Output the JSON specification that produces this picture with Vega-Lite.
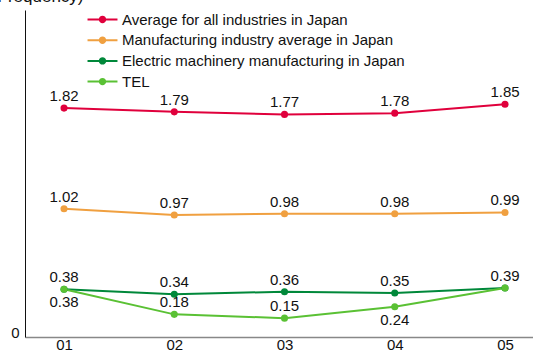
{
  "$schema": "https://vega.github.io/schema/vega-lite/v6.json",
  "autosize": "none",
  "width": 508,
  "height": 327,
  "padding": {"left": 25, "top": 10, "right": 0, "bottom": 14},
  "config": {
    "view": {"stroke": null},
    "font": "Liberation Sans",
    "axis": {"grid": false, "ticks": false, "labelColor": "#111", "labelFontSize": 15, "titleFontWeight": "normal"}
  },
  "data": {
    "values": [
      {"year": 1, "series": "Average for all industries in Japan", "value": 1.82, "lab": "above"},
      {"year": 2, "series": "Average for all industries in Japan", "value": 1.79, "lab": "above"},
      {"year": 3, "series": "Average for all industries in Japan", "value": 1.77, "lab": "above"},
      {"year": 4, "series": "Average for all industries in Japan", "value": 1.78, "lab": "above"},
      {"year": 5, "series": "Average for all industries in Japan", "value": 1.85, "lab": "above"},
      {"year": 1, "series": "Manufacturing industry average in Japan", "value": 1.02, "lab": "above"},
      {"year": 2, "series": "Manufacturing industry average in Japan", "value": 0.97, "lab": "above"},
      {"year": 3, "series": "Manufacturing industry average in Japan", "value": 0.98, "lab": "above"},
      {"year": 4, "series": "Manufacturing industry average in Japan", "value": 0.98, "lab": "above"},
      {"year": 5, "series": "Manufacturing industry average in Japan", "value": 0.99, "lab": "above"},
      {"year": 1, "series": "Electric machinery manufacturing in Japan", "value": 0.38, "lab": "above"},
      {"year": 2, "series": "Electric machinery manufacturing in Japan", "value": 0.34, "lab": "above"},
      {"year": 3, "series": "Electric machinery manufacturing in Japan", "value": 0.36, "lab": "above"},
      {"year": 4, "series": "Electric machinery manufacturing in Japan", "value": 0.35, "lab": "above"},
      {"year": 5, "series": "Electric machinery manufacturing in Japan", "value": 0.39, "lab": "above"},
      {"year": 1, "series": "TEL", "value": 0.38, "lab": "below"},
      {"year": 2, "series": "TEL", "value": 0.18, "lab": "above"},
      {"year": 3, "series": "TEL", "value": 0.15, "lab": "above"},
      {"year": 4, "series": "TEL", "value": 0.24, "lab": "below"},
      {"year": 5, "series": "TEL", "value": 0.39, "lab": "none"}
    ]
  },
  "encoding": {
    "x": {
      "field": "year", "type": "quantitative",
      "scale": {"domain": [0.646, 5.254], "nice": false, "zero": false},
      "axis": {"values": [1, 2, 3, 4, 5], "labelExpr": "'0' + datum.value", "title": null, "domainColor": "#888", "domainWidth": 1.5, "labelPadding": 0}
    },
    "y": {
      "field": "value", "type": "quantitative",
      "scale": {"domain": [0, 2.6], "nice": false},
      "axis": {"values": [0], "domainColor": "#111", "domainWidth": 1, "labelBaseline": "alphabetic", "labelPadding": 6,
        "title": "(Frequency)", "titleAngle": 0, "titleAlign": "right", "titleBaseline": "alphabetic", "titleX": 58, "titleY": -9, "titleFontSize": 17, "titleColor": "#111"}
    },
    "color": {
      "field": "series", "type": "nominal",
      "scale": {
        "domain": ["Average for all industries in Japan", "Manufacturing industry average in Japan", "Electric machinery manufacturing in Japan", "TEL"],
        "range": ["#e0003c", "#f0a040", "#00883a", "#5ac134"]
      },
      "legend": {
        "title": null, "orient": "none", "legendX": 70, "legendY": 2, "padding": 0,
        "symbolType": "M-2.14,-0.14H2.14V0.14H-2.14Z M0.53,0A0.53,0.53 0 1,1 -0.53,0A0.53,0.53 0 1,1 0.53,0Z",
        "symbolSize": 196, "symbolStrokeWidth": 0, "symbolOpacity": 1,
        "labelOffset": 12, "labelFontSize": 15, "labelColor": "#111", "labelLimit": 400, "rowPadding": 4.7
      }
    }
  },
  "layer": [
    {
      "mark": {"type": "line", "strokeWidth": 2}
    },
    {
      "mark": {"type": "point", "filled": true, "size": 50, "opacity": 1}
    },
    {
      "transform": [{"filter": "datum.lab == 'above'"}],
      "mark": {"type": "text", "dy": -12, "baseline": "middle", "fontSize": 15},
      "encoding": {"text": {"field": "value", "type": "quantitative", "format": ".2f"}, "color": {"value": "#111"}}
    },
    {
      "transform": [{"filter": "datum.lab == 'below'"}],
      "mark": {"type": "text", "dy": 13, "baseline": "middle", "fontSize": 15},
      "encoding": {"text": {"field": "value", "type": "quantitative", "format": ".2f"}, "color": {"value": "#111"}}
    }
  ]
}
